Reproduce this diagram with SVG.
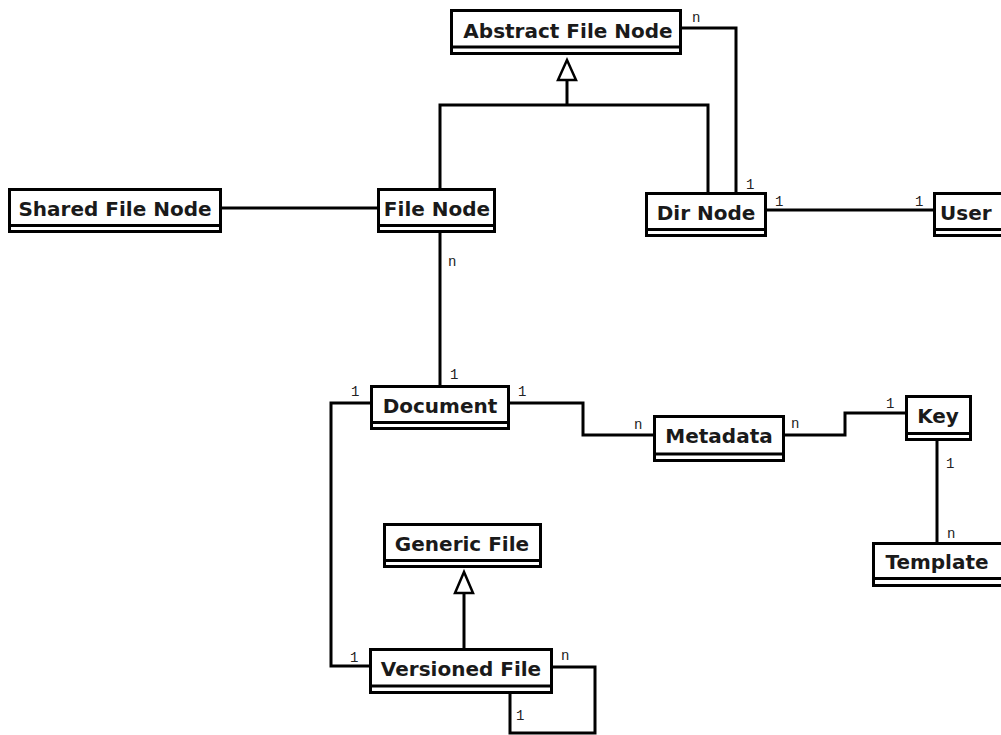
<svg xmlns="http://www.w3.org/2000/svg" width="1001" height="735" viewBox="0 0 1001 735">
  <style>
    .box { fill: #ffffff; stroke: #000000; stroke-width: 3; }
    .sep { stroke: #000000; stroke-width: 3; }
    .name { font-family: "DejaVu Sans", "Liberation Sans", sans-serif; font-weight: bold; font-size: 20px; fill: #1a1a1a; text-anchor: middle; }
    .edge { fill: none; stroke: #000000; stroke-width: 3; stroke-linejoin: miter; }
    .tri { fill: #ffffff; stroke: #000000; stroke-width: 2.5; stroke-linejoin: miter; }
    .mult { font-family: "Liberation Mono", "DejaVu Sans Mono", monospace; font-size: 14px; fill: #222222; }
  </style>
  <rect width="1001" height="735" fill="#ffffff"/>

  <!-- associations and generalizations -->
  <g id="connectors">
    <!-- Abstract File Node n : 1 Dir Node -->
    <polyline class="edge" points="682,28 736,28 736,192"/>
    <!-- File Node / Dir Node generalize Abstract File Node -->
    <polyline class="edge" points="440,188 440,105 708,105 708,192"/>
    <line class="edge" x1="567" y1="105" x2="567" y2="80"/>
    <polygon class="tri" points="567,60 558,80 576,80"/>
    <!-- Shared File Node - File Node -->
    <line class="edge" x1="222" y1="208" x2="377" y2="208"/>
    <!-- Dir Node 1 : 1 User -->
    <line class="edge" x1="767" y1="210" x2="933" y2="210"/>
    <!-- File Node n : 1 Document -->
    <line class="edge" x1="440" y1="232" x2="440" y2="385"/>
    <!-- Document 1 : n Metadata -->
    <polyline class="edge" points="510,403 583,403 583,435 653,435"/>
    <!-- Metadata n : 1 Key -->
    <polyline class="edge" points="785,435 845,435 845,413 905,413"/>
    <!-- Key 1 : n Template -->
    <line class="edge" x1="937" y1="441" x2="937" y2="542"/>
    <!-- Document 1 : 1 Versioned File -->
    <polyline class="edge" points="370,403 331,403 331,666 369,666"/>
    <!-- Versioned File generalizes Generic File -->
    <line class="edge" x1="464" y1="593" x2="464" y2="648"/>
    <polygon class="tri" points="464,572 455,593 473,593"/>
    <!-- Versioned File self association -->
    <polyline class="edge" points="553,667 595,667 595,733 510,733 510,694"/>
  </g>

  <!-- multiplicities -->
  <g id="multiplicities">
    <text class="mult" x="692" y="22">n</text>
    <text class="mult" x="746" y="189">1</text>
    <text class="mult" x="775" y="206">1</text>
    <text class="mult" x="915" y="206">1</text>
    <text class="mult" x="448" y="266">n</text>
    <text class="mult" x="450" y="379">1</text>
    <text class="mult" x="518" y="396">1</text>
    <text class="mult" x="351" y="396">1</text>
    <text class="mult" x="634" y="429">n</text>
    <text class="mult" x="791" y="428">n</text>
    <text class="mult" x="886" y="408">1</text>
    <text class="mult" x="946" y="468">1</text>
    <text class="mult" x="947" y="538">n</text>
    <text class="mult" x="350" y="662">1</text>
    <text class="mult" x="561" y="660">n</text>
    <text class="mult" x="516" y="720">1</text>
  </g>

  <!-- classes -->
  <g id="abstract-file-node">
    <rect class="box" x="451.5" y="10.5" width="229" height="43"/>
    <line class="sep" x1="451.5" y1="47" x2="680.5" y2="47"/>
    <text class="name" x="568" y="38">Abstract File Node</text>
  </g>
  <g id="shared-file-node">
    <rect class="box" x="9.5" y="189.5" width="211" height="42"/>
    <line class="sep" x1="9.5" y1="225.5" x2="220.5" y2="225.5"/>
    <text class="name" x="115" y="216">Shared File Node</text>
  </g>
  <g id="file-node">
    <rect class="box" x="378.5" y="189.5" width="116" height="42"/>
    <line class="sep" x1="378.5" y1="225.5" x2="494.5" y2="225.5"/>
    <text class="name" x="437" y="216">File Node</text>
  </g>
  <g id="dir-node">
    <rect class="box" x="646.5" y="193.5" width="119" height="42"/>
    <line class="sep" x1="646.5" y1="229.5" x2="765.5" y2="229.5"/>
    <text class="name" x="706" y="220">Dir Node</text>
  </g>
  <g id="user">
    <rect class="box" x="934.5" y="193.5" width="80" height="42"/>
    <line class="sep" x1="934.5" y1="229.5" x2="1014.5" y2="229.5"/>
    <text class="name" x="940" y="220" style="text-anchor:start">User</text>
  </g>
  <g id="document">
    <rect class="box" x="371.5" y="386.5" width="137" height="42"/>
    <line class="sep" x1="371.5" y1="422.5" x2="508.5" y2="422.5"/>
    <text class="name" x="440" y="413">Document</text>
  </g>
  <g id="metadata">
    <rect class="box" x="654.5" y="416.5" width="129" height="44"/>
    <line class="sep" x1="654.5" y1="454" x2="783.5" y2="454"/>
    <text class="name" x="719" y="443">Metadata</text>
  </g>
  <g id="key">
    <rect class="box" x="906.5" y="396.5" width="64" height="43"/>
    <line class="sep" x1="906.5" y1="433.5" x2="970.5" y2="433.5"/>
    <text class="name" x="938" y="423">Key</text>
  </g>
  <g id="template">
    <rect class="box" x="873.5" y="543.5" width="130" height="42"/>
    <line class="sep" x1="873.5" y1="578.5" x2="1003.5" y2="578.5"/>
    <text class="name" x="937" y="569">Template</text>
  </g>
  <g id="generic-file">
    <rect class="box" x="384.5" y="524.5" width="156" height="42"/>
    <line class="sep" x1="384.5" y1="560.5" x2="540.5" y2="560.5"/>
    <text class="name" x="462" y="551">Generic File</text>
  </g>
  <g id="versioned-file">
    <rect class="box" x="370.5" y="649.5" width="181" height="43"/>
    <line class="sep" x1="370.5" y1="686" x2="551.5" y2="686"/>
    <text class="name" x="461" y="676">Versioned File</text>
  </g>
</svg>
